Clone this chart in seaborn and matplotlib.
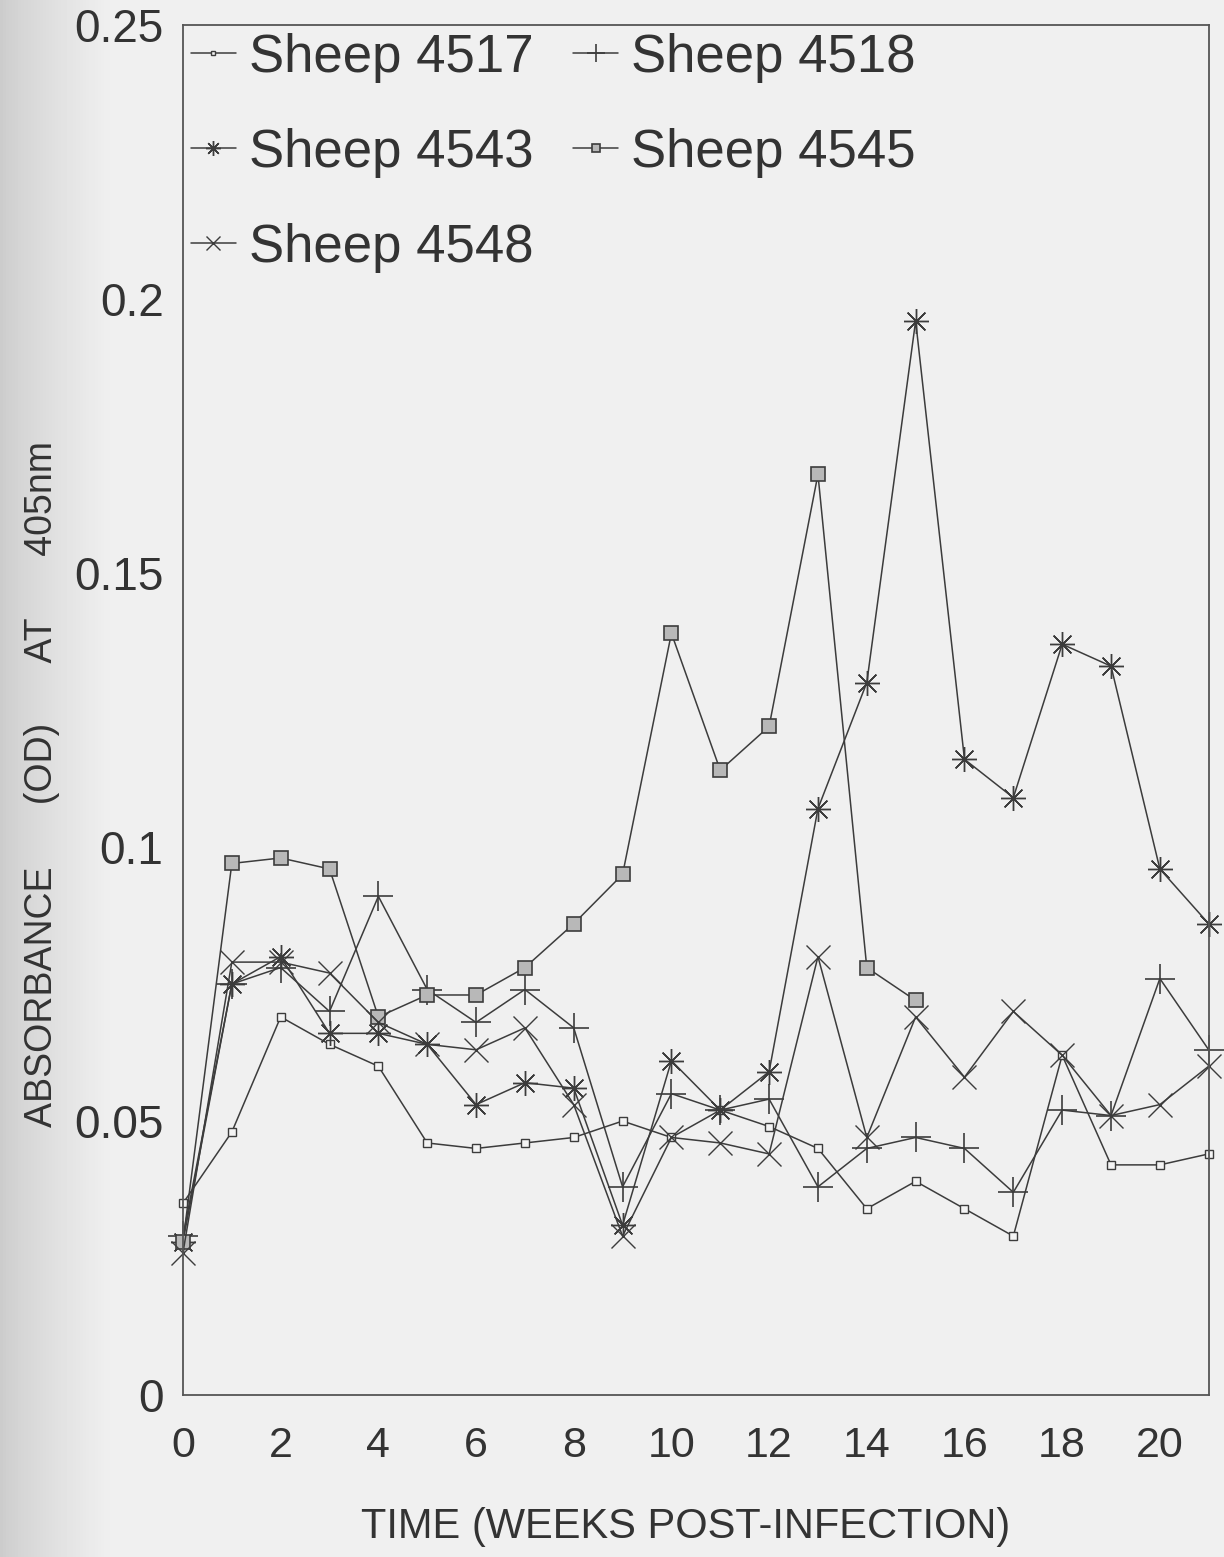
import numpy as np
import pandas as pd
import matplotlib
matplotlib.use("Agg")
import matplotlib.pyplot as plt
import seaborn as sns

# Weeks post-infection
weeks = list(range(22))

# Absorbance (OD at 405 nm) per sheep
sheep_4517 = [0.035, 0.048, 0.069, 0.064, 0.060, 0.046, 0.045, 0.046, 0.047, 0.050, 0.047,
              0.052, 0.049, 0.045, 0.034, 0.039, 0.034, 0.029, 0.062, 0.042, 0.042, 0.044]
sheep_4518 = [0.029, 0.075, 0.078, 0.070, 0.091, 0.074, 0.068, 0.074, 0.067, 0.038, 0.055,
              0.052, 0.054, 0.038, 0.045, 0.047, 0.045, 0.037, 0.052, 0.051, 0.076, 0.063]
sheep_4543 = [0.028, 0.075, 0.080, 0.066, 0.066, 0.064, 0.053, 0.057, 0.056, 0.031, 0.061,
              0.052, 0.059, 0.107, 0.130, 0.196, 0.116, 0.109, 0.137, 0.133, 0.096, 0.086]
sheep_4545 = [0.028, 0.097, 0.098, 0.096, 0.069, 0.073, 0.073, 0.078, 0.086, 0.095, 0.139,
              0.114, 0.122, 0.168, 0.078, 0.072]
sheep_4548 = [0.026, 0.079, 0.079, 0.077, 0.068, 0.064, 0.063, 0.067, 0.053, 0.029, 0.047,
              0.046, 0.044, 0.080, 0.047, 0.069, 0.058, 0.070, 0.062, 0.051, 0.053, 0.060]

labels = ["Sheep 4517", "Sheep 4518", "Sheep 4543", "Sheep 4545", "Sheep 4548"]
x_ticks = [0, 2, 4, 6, 8, 10, 12, 14, 16, 18, 20]
y_ticks = [0, 0.05, 0.1, 0.15, 0.2, 0.25]
y_tick_labels = ["0", "0.05", "0.1", "0.15", "0.2", "0.25"]

sns.set_style("white")
plt.rcParams["font.family"] = ["Liberation Sans", "DejaVu Sans"]

paper = "#efefef"
ink = "#3c3c3c"
text_col = "#333333"

fig = plt.figure(figsize=(12.24, 15.57), dpi=100, facecolor=paper)

# paper shading along the binding edge
bg = fig.add_axes([0, 0, 1, 1], zorder=-10)
grad = np.linspace(0, 1, 400)
shade = 0.80 + 0.14 * np.clip(grad / 0.09, 0, 1) ** 0.8
bg.imshow(np.tile(shade, (10, 1)), cmap="gray", vmin=0, vmax=1, aspect="auto",
          extent=[0, 1, 0, 1])
bg.set_axis_off()

ax = fig.add_axes([0.1495, 0.104, 0.838, 0.880])
ax.set_facecolor("none")

styles = [
    (weeks, sheep_4517, dict(marker="s", markersize=6, markerfacecolor="#f4f4f4",
                             markeredgewidth=1.0)),
    (weeks, sheep_4518, dict(marker="+", markersize=22, markeredgewidth=1.2)),
    (weeks, sheep_4543, dict(marker=(8, 2, 0), markersize=18, markeredgewidth=1.0)),
    (weeks[:len(sheep_4545)], sheep_4545, dict(marker="s", markersize=10,
                                               markerfacecolor="#b8b8b8",
                                               markeredgewidth=1.2)),
    (weeks, sheep_4548, dict(marker="x", markersize=17, markeredgewidth=1.0)),
]

for (xs, ys, kw), lab in zip(styles, labels):
    df = pd.DataFrame({"week": xs, "od": ys})
    sns.lineplot(data=df, x="week", y="od", ax=ax, color=ink, linewidth=1.1,
                 markeredgecolor=ink, label=lab, clip_on=False, **kw)

h, l = ax.get_legend_handles_labels()
order = [0, 2, 4, 1, 3]
leg = ax.legend([h[i] for i in order], [l[i] for i in order], ncol=2, loc="upper left",
                bbox_to_anchor=(0.0, 1.0), frameon=False, fontsize=38,
                handlelength=0.85, handletextpad=0.25, columnspacing=0.75,
                labelspacing=0.85, borderaxespad=0.0, borderpad=0.15, markerscale=0.6)
for t in leg.get_texts():
    t.set_color(text_col)

ax.set_xlim(0, 21)
ax.set_ylim(0, 0.25)
ax.set_xticks(x_ticks)
ax.set_yticks(y_ticks)
ax.set_yticklabels(y_tick_labels)
ax.tick_params(axis="x", length=0, pad=22, labelsize=31, labelcolor=text_col)
ax.tick_params(axis="y", length=0, pad=14, labelsize=33, labelcolor=text_col)

for sp in ax.spines.values():
    sp.set_color("#555555")
    sp.set_linewidth(1.3)

ax.set_xlabel("TIME (WEEKS POST-INFECTION)", fontsize=30, color=text_col)
ax.xaxis.set_label_coords(0.49, -0.082)
ax.set_ylabel("ABSORBANCE      (OD)      AT      405nm", fontsize=27, color=text_col)
ax.yaxis.set_label_coords(-0.12, 0.446)

fig.savefig("out.png", dpi=100, facecolor=paper)
